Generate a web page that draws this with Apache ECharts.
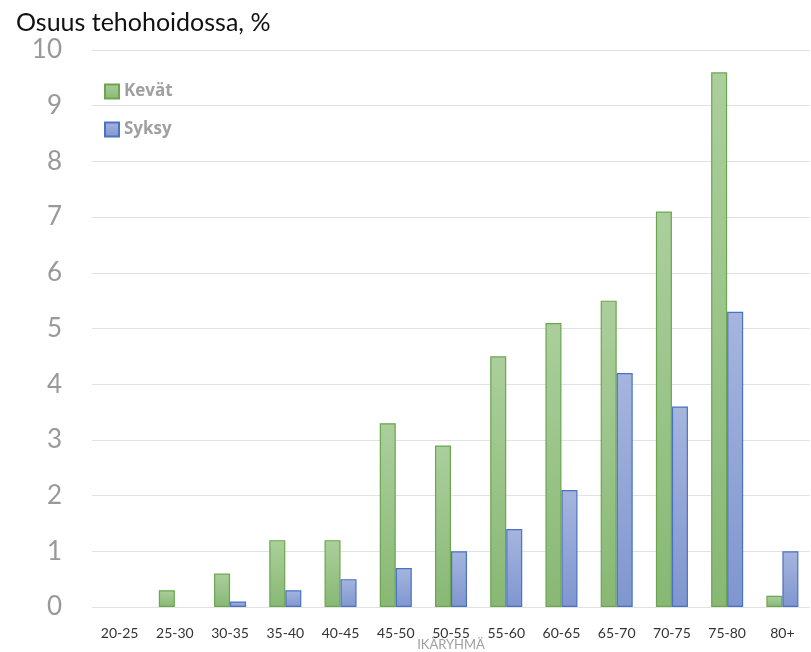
<!DOCTYPE html>
<html><head><meta charset="utf-8">
<script src="https://cdn.jsdelivr.net/npm/echarts@6/dist/echarts.min.js"></script>
<style>html,body{margin:0;padding:0;background:#fff}#c{width:811px;height:652px}</style>
</head><body><div id="c"></div>
<script>
const categories = ['20-25','25-30','30-35','35-40','40-45','45-50','50-55','55-60','60-65','65-70','70-75','75-80','80+'];
const kevat = [0, 0.3, 0.6, 1.2, 1.2, 3.3, 2.9, 4.5, 5.1, 5.5, 7.1, 9.6, 0.2];
const syksy = [0, 0, 0.1, 0.3, 0.5, 0.7, 1.0, 1.4, 2.1, 4.2, 3.6, 5.3, 1.0];
const yTicks = [0,1,2,3,4,5,6,7,8,9,10];

const grad = (a,b) => new echarts.graphic.LinearGradient(0,0,0,1,[{offset:0,color:a},{offset:1,color:b}]);
const noZero = arr => arr.map(v => v === 0 ? null : v);
const chart = echarts.init(document.getElementById('c'));
chart.setOption({
  animation:false,
  title:{text:'Osuus tehohoidossa, %',left:11,top:5,textStyle:{fontFamily:'Lato',fontSize:25,fontWeight:'normal',color:'#111'}},
  legend:{orient:'vertical',left:99,top:78,itemGap:21,itemWidth:14,itemHeight:14,icon:'rect',
    textStyle:{fontFamily:'Open Sans',fontSize:17,fontWeight:'bold',color:'#a0a0a0'}},
  grid:{left:92,right:1,top:50,bottom:45,containLabel:false,outerBoundsMode:'none'},
  xAxis:{type:'category',data:categories,name:'IKÄRYHMÄ',nameLocation:'middle',nameGap:38,nameMoveOverlap:false,
    nameTextStyle:{fontFamily:'Lato',fontSize:13,color:'#a0a0a0',verticalAlign:'middle'},
    axisLine:{show:false},axisTick:{show:false},
    axisLabel:{fontFamily:'Lato',fontSize:14,color:'#333',margin:19,interval:0}},
  yAxis:{type:'value',min:0,max:10,interval:1,
    axisLabel:{fontFamily:'Lato',fontSize:26,color:'#999',margin:30,formatter:v=>yTicks.includes(v)?String(v):''},
    splitLine:{lineStyle:{color:'#e2e2e2',width:1}}},
  series:[
    {name:'Kevät',type:'bar',data:noZero(kevat),barGap:'0%',barCategoryGap:'42%',
      itemStyle:{color:grad('#abcf9c','#88b874'),borderColor:'#6ca54f',borderWidth:1.2}},
    {name:'Syksy',type:'bar',data:noZero(syksy),
      itemStyle:{color:grad('#a5b5de','#7f96cf'),borderColor:'#4a72c2',borderWidth:1.2}}
  ]
});
</script></body></html>
